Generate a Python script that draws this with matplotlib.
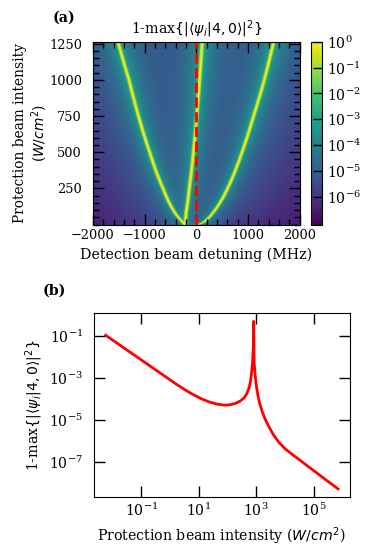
import numpy as np
import matplotlib
matplotlib.use('Agg')
import matplotlib.pyplot as plt
from matplotlib.colors import LogNorm
from matplotlib.ticker import MultipleLocator, NullLocator

plt.rcParams['font.family'] = 'DejaVu Serif'
plt.rcParams['font.size'] = 10.2
plt.rcParams['xtick.labelsize'] = 9.3
plt.rcParams['ytick.labelsize'] = 9.3

# (a) positions of the three resonance lines (MHz) read at given intensities (W/cm^2)
intensity_pts = [0, 30, 88, 250, 500, 750, 1000, 1264]
left_branch = [-200, -291, -425, -645, -903, -1120, -1303, -1516]
middle_branch = [-225, -215, -200, -140, -60, 5, 60, 110]
right_branch = [-20, 180, 328, 599, 878, 1102, 1309, 1490]

# map settings
detuning_range = (-2000, 2000)
intensity_range = (0, 1264)
tail_scale = 1.55e-3      # width^2 of the lorentzian tails per W/cm^2
tail_offset = 283
line_width = 17           # MHz, visible core of each line

# (b) cut through the map (log10 values)
scan_log_intensity = [-2.24, -1.49, -0.35, 0.23, 0.50, 0.80, 1.10, 1.37, 1.63, 1.89,
                      2.10, 2.29, 2.45, 2.58, 2.68, 2.75, 2.80, 2.84, 2.87, 2.89,
                      2.905, 2.915, 2.93, 2.96, 2.98, 3.02, 3.06, 3.12, 3.21, 3.32,
                      3.44, 3.60, 3.78, 4.00, 4.24, 4.81, 5.39, 5.85]
scan_log_infidelity = [-0.98, -1.69, -2.77, -3.32, -3.56, -3.80, -4.01, -4.16, -4.26, -4.31,
                       -4.29, -4.22, -4.11, -3.96, -3.75, -3.50, -3.20, -2.80, -2.35, -1.90,
                       -1.20, -0.32, -2.30, -2.80, -3.09, -3.50, -3.85, -4.22, -4.62, -5.00,
                       -5.33, -5.72, -6.06, -6.38, -6.64, -7.23, -7.83, -8.30]


def build_map():
    det = np.linspace(detuning_range[0], detuning_range[1], 1201)
    inten = np.linspace(intensity_range[0], intensity_range[1], 500)
    D, I = np.meshgrid(det, inten)
    width2 = tail_scale * (I + tail_offset)
    field = np.zeros_like(D)
    for branch in (left_branch, middle_branch, right_branch):
        # lines follow roughly sqrt(I), so step between the read points in sqrt(I)
        pos = np.interp(np.sqrt(inten), np.sqrt(intensity_pts), branch)[:, None]
        d = D - pos
        field += width2 / (d ** 2 + width2) + np.exp(-(d / line_width) ** 2)
    return np.clip(field, 1e-8, 1.0)


fig = plt.figure(figsize=(3.73, 5.53), dpi=100)

# ---- panel (a)
ax1 = fig.add_axes([0.2493, 0.594, 0.5542, 0.3306])
im = ax1.imshow(build_map(), origin='lower', aspect='auto', cmap='viridis',
                extent=[*detuning_range, *intensity_range],
                norm=LogNorm(vmin=8.5e-8, vmax=1))
ax1.axvline(0, color='red', ls='--', lw=2)
ax1.set_xlim(detuning_range)
ax1.set_ylim(intensity_range)
ax1.set_xticks([-2000, -1000, 0, 1000, 2000])
ax1.set_yticks([250, 500, 750, 1000, 1250])
ax1.xaxis.set_minor_locator(MultipleLocator(200))
ax1.yaxis.set_minor_locator(MultipleLocator(50))
ax1.tick_params(which='both', direction='in', top=True, right=True)
ax1.tick_params(which='major', length=8, width=1)
ax1.tick_params(which='minor', length=4, width=1)
ax1.tick_params(axis='y', pad=8)
ax1.set_xlabel('Detection beam detuning (MHz)')
ax1.set_ylabel('Protection beam intensity\n($W/cm^2$)', fontsize=9.9)
ax1.yaxis.set_label_coords(-0.208, 0.5)
ax1.set_title(r'1-max$\{|\langle\psi_i|4, 0\rangle|^2\}$', fontsize=10.2)

cax = fig.add_axes([0.8338, 0.594, 0.0295, 0.3306])
cb = fig.colorbar(im, cax=cax)
cb.set_ticks([1e0, 1e-1, 1e-2, 1e-3, 1e-4, 1e-5, 1e-6])
cb.ax.yaxis.set_minor_locator(NullLocator())
cb.ax.tick_params(direction='in', length=6.5, width=1, labelsize=10.2)

fig.text(0.142, 0.968, '(a)', fontweight='bold', va='center', ha='left')

# ---- panel (b)
ax2 = fig.add_axes([0.252, 0.1007, 0.6855, 0.3333])
ax2.loglog(10.0 ** np.array(scan_log_intensity), 10.0 ** np.array(scan_log_infidelity),
           color='red', lw=2)
ax2.set_xticks([1e-1, 1e1, 1e3, 1e5])
ax2.set_yticks([1e-7, 1e-5, 1e-3, 1e-1])
ax2.xaxis.set_minor_locator(NullLocator())
ax2.yaxis.set_minor_locator(NullLocator())
ax2.tick_params(which='major', direction='in', top=True, right=True, length=8, width=1)
ax2.tick_params(axis='y', pad=8)
ax2.tick_params(labelsize=10.2)
ax2.set_xlabel('Protection beam intensity ($W/cm^2$)')
ax2.set_ylabel(r'1-max$\{|\langle\psi_i|4, 0\rangle|^2\}$')
ax2.yaxis.set_label_coords(-0.19, 0.5)

fig.text(0.115, 0.474, '(b)', fontweight='bold', va='center', ha='left')

fig.savefig('out.png', dpi=100)
